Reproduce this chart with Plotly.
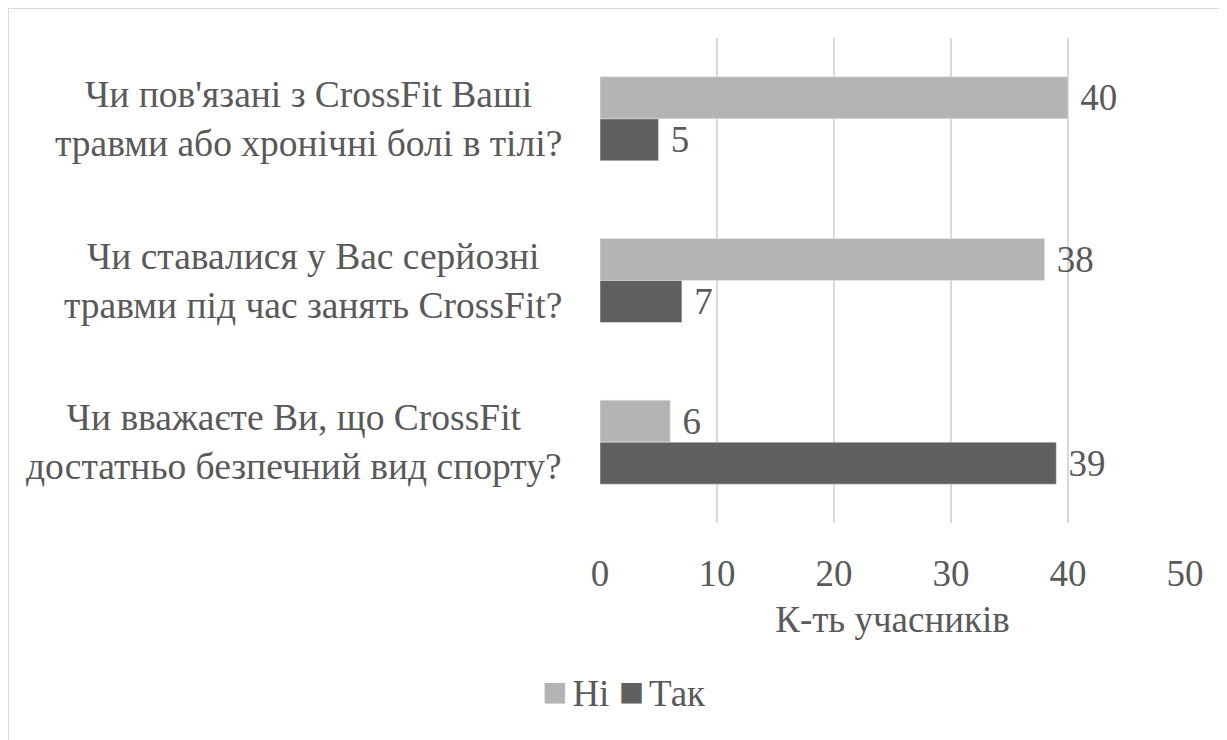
import plotly.graph_objects as go

categories = [
    "Чи пов'язані з CrossFit Ваші<br>травми або хронічні болі в тілі?",
    "Чи ставалися у Вас серйозні<br>травми під час занять CrossFit?",
    "Чи вважаєте Ви, що CrossFit<br>достатньо безпечний вид спорту?",
]
ni_values = [40, 38, 6]
tak_values = [5, 7, 39]
x_ticks = [0, 10, 20, 30, 40, 50]
series_names = ["Ні", "Так"]
series_colors = ["#b4b4b4", "#606060"]
axis_title = "К-ть учасників"

FONT = "'Liberation Serif', 'Times New Roman', Tinos, serif"
TXT = "#595959"
FS = 37

fig = go.Figure()
for name, vals, col in zip(series_names, [ni_values, tak_values], series_colors):
    fig.add_trace(go.Bar(
        y=categories, x=vals, name=name, orientation="h",
        marker=dict(color=col),
        text=vals, texttemplate=" %{x}", textposition="outside",
        textfont=dict(family=FONT, size=FS, color=TXT), cliponaxis=False,
        showlegend=False,
    ))

OFF = 8  # page body margin
W, H = 1227 - OFF, 740 - OFF
ml, mr, mt, mb = 600 - OFF, 50 - OFF, 38 - OFF, 217
pw, ph = W - ml - mr, H - mt - mb

def px_x(p):
    return (p - OFF - ml) / pw

def px_y(p):
    return 1 - (p - OFF - mt) / ph

# category labels: centered lines, block right-aligned next to plot
annotations = []
for cat in categories:
    annotations.append(dict(
        x=0, xref="paper", y=cat, yref="y", xanchor="right",
        yanchor="middle", align="center", xshift=-36, yshift=0,
        text=cat, showarrow=False,
        font=dict(family=FONT, size=37.5, color=TXT)))

# legend drawn as text with square keys
legend_text = "<span style='font-size:37px'>&nbsp;</span>".join(
    f"<span style='color:{c};font-size:42px'>■</span>"
    f"<span style='font-size:20px'>&nbsp;</span>{n}"
    for n, c in zip(series_names, series_colors))
annotations.append(dict(
    x=px_x(624), xref="paper", y=px_y(692), yref="paper",
    xanchor="center", yanchor="middle", text=legend_text, showarrow=False,
    font=dict(family=FONT, size=FS, color=TXT)))

fig.update_layout(
    width=W, height=H,
    margin=dict(l=ml, r=mr, t=mt, b=mb),
    paper_bgcolor="white", plot_bgcolor="white",
    font=dict(family=FONT, size=FS, color=TXT),
    barmode="group", bargap=0.48, bargroupgap=0,
    showlegend=False,
    xaxis=dict(range=[0, 50], tickvals=x_ticks, showgrid=True,
               gridcolor="#d9d9d9", gridwidth=1.5, zeroline=False,
               showline=False, ticks="outside", ticklen=18,
               tickcolor="rgba(0,0,0,0)",
               title=dict(text=axis_title, standoff=12,
                          font=dict(family=FONT, size=FS, color=TXT))),
    yaxis=dict(autorange="reversed", showgrid=False, zeroline=False,
               showline=False, showticklabels=False),
    annotations=annotations,
    shapes=[dict(type="rect", xref="paper", yref="paper",
                 x0=px_x(8), x1=px_x(1225), y0=px_y(760), y1=px_y(8),
                 line=dict(color="#d9d9d9", width=2), layer="below")],
)

fig.write_html("out.html")
